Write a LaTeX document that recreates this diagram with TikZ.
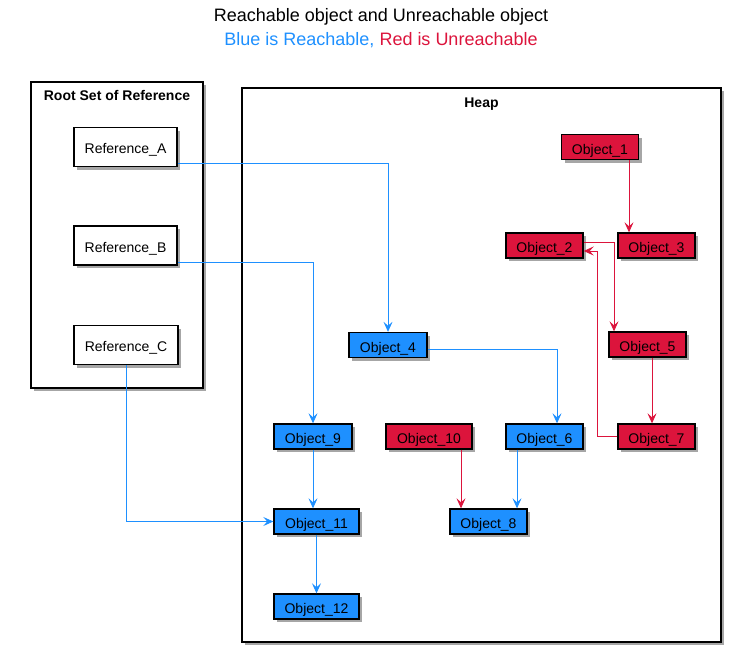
\documentclass[tikz,border=0pt]{standalone}
\usepackage{fontspec}
\setmainfont{Liberation Sans}
\usetikzlibrary{arrows.meta,shadows,calc}
\definecolor{reachblue}{HTML}{1E90FF}
\definecolor{unreachred}{HTML}{DC143C}
\tikzset{
  shad/.style={drop shadow={shadow xshift=3pt,shadow yshift=-3pt,opacity=0.35,fill=black}},
  obj/.style={draw=black,line width=1.4pt,minimum height=25pt,inner sep=0pt,shad,
    text height=14pt,text depth=0pt,font=\fontsize{14}{16}\selectfont},
  bobj/.style={obj,fill=reachblue},
  robj/.style={obj,fill=unreachred},
  refbox/.style={draw=black,line width=1.2pt,fill=white,minimum height=39pt,minimum width=103pt,inner sep=0pt,shad,
    text height=13.5pt,text depth=0pt,font=\fontsize{14}{16}\selectfont},
  container/.style={draw=black,line width=1.4pt,fill=white,inner sep=0pt,shad},
  clabel/.style={anchor=north,font=\bfseries\fontsize{14}{16}\selectfont,inner sep=0pt},
  bedge/.style={draw=reachblue,line width=0.8pt,-{Stealth[length=10pt,width=9pt,inset=4pt]}},
  redge/.style={draw=unreachred,line width=0.8pt,-{Stealth[length=10pt,width=9pt,inset=4pt]}},
}
\begin{document}
\begin{tikzpicture}[x=1pt,y=-1pt]
\useasboundingbox (0,0) rectangle (730,653);
% titles
\node (title) at (381,17) {\fontsize{18}{20}\selectfont Reachable object and Unreachable object};
\node (subtitle) at (381,40) {\fontsize{18}{20}\selectfont\textcolor{reachblue}{Blue is Reachable,} \textcolor{unreachred}{Red is Unreachable}};
% containers
\node[container,minimum width=172pt,minimum height=306pt] (root) at (117,235) {};
\node[clabel] (rootlabel) at (117,90) {Root Set of Reference};
\node[container,minimum width=479pt,minimum height=554pt] (heap) at (481.5,365) {};
\node[clabel] (heaplabel) at (481.5,97.5) {Heap};
% references
\node[refbox] (RA) at (125.5,147) {Reference\_A};
\node[refbox] (RB) at (125.5,245.5) {Reference\_B};
\node[refbox,minimum width=104pt] (RC) at (126,345) {Reference\_C};
% objects
\node[robj,minimum width=77pt] (O1) at (600,147) {Object\_1};
\node[robj,minimum width=77pt] (O2) at (544.5,245.5) {Object\_2};
\node[robj,minimum width=77pt] (O3) at (656.5,245.5) {Object\_3};
\node[bobj,minimum width=78pt] (O4) at (388,345) {Object\_4};
\node[robj,minimum width=77pt] (O5) at (647.5,344.5) {Object\_5};
\node[bobj,minimum width=77pt] (O6) at (544.5,436.5) {Object\_6};
\node[robj,minimum width=77pt] (O7) at (656.5,436.5) {Object\_7};
\node[bobj,minimum width=77pt] (O8) at (488.5,521.5) {Object\_8};
\node[bobj,minimum width=78pt] (O9) at (313,436.5) {Object\_9};
\node[robj,minimum width=86pt] (O10) at (429,436.5) {Object\_10};
\node[bobj,minimum width=85pt] (O11) at (316.5,521.5) {Object\_11};
\node[bobj,minimum width=85pt] (O12) at (316.5,606.5) {Object\_12};
% blue edges
\draw[bedge] ([yshift=-16pt]RA.east) -| (O4.north);
\draw[bedge] ([yshift=-16.5pt]RB.east) -| (O9.north);
\draw[bedge] (RC.south) |- (O11.west);
\draw[bedge] ([yshift=-4pt]O4.east) -| ([xshift=12.5pt]O6.north);
\draw[bedge] (O9.south) -- (O9.south |- O11.north);
\draw[bedge] ([xshift=-27.5pt]O6.south) -- ([xshift=-27.5pt]O6.south |- O8.north);
\draw[bedge] (O11.south) -- (O11.south |- O12.north);
% red edges
\draw[redge] ([xshift=29pt]O1.south) -- ([xshift=29pt]O1.south |- O3.north);
\draw[redge] ([yshift=3.5pt]O2.east) -| ([xshift=-33.5pt]O5.north);
\draw[redge] ([xshift=4.5pt]O5.south) -- ([xshift=4.5pt]O5.south |- O7.north);
\coordinate (bend72) at (597,251);
\draw[redge] (O7.west) -| (bend72) -- ([yshift=-5.5pt]O2.east);
\draw[redge] ([xshift=32pt]O10.south) -- ([xshift=32pt]O10.south |- O8.north);
\end{tikzpicture}
\end{document}
